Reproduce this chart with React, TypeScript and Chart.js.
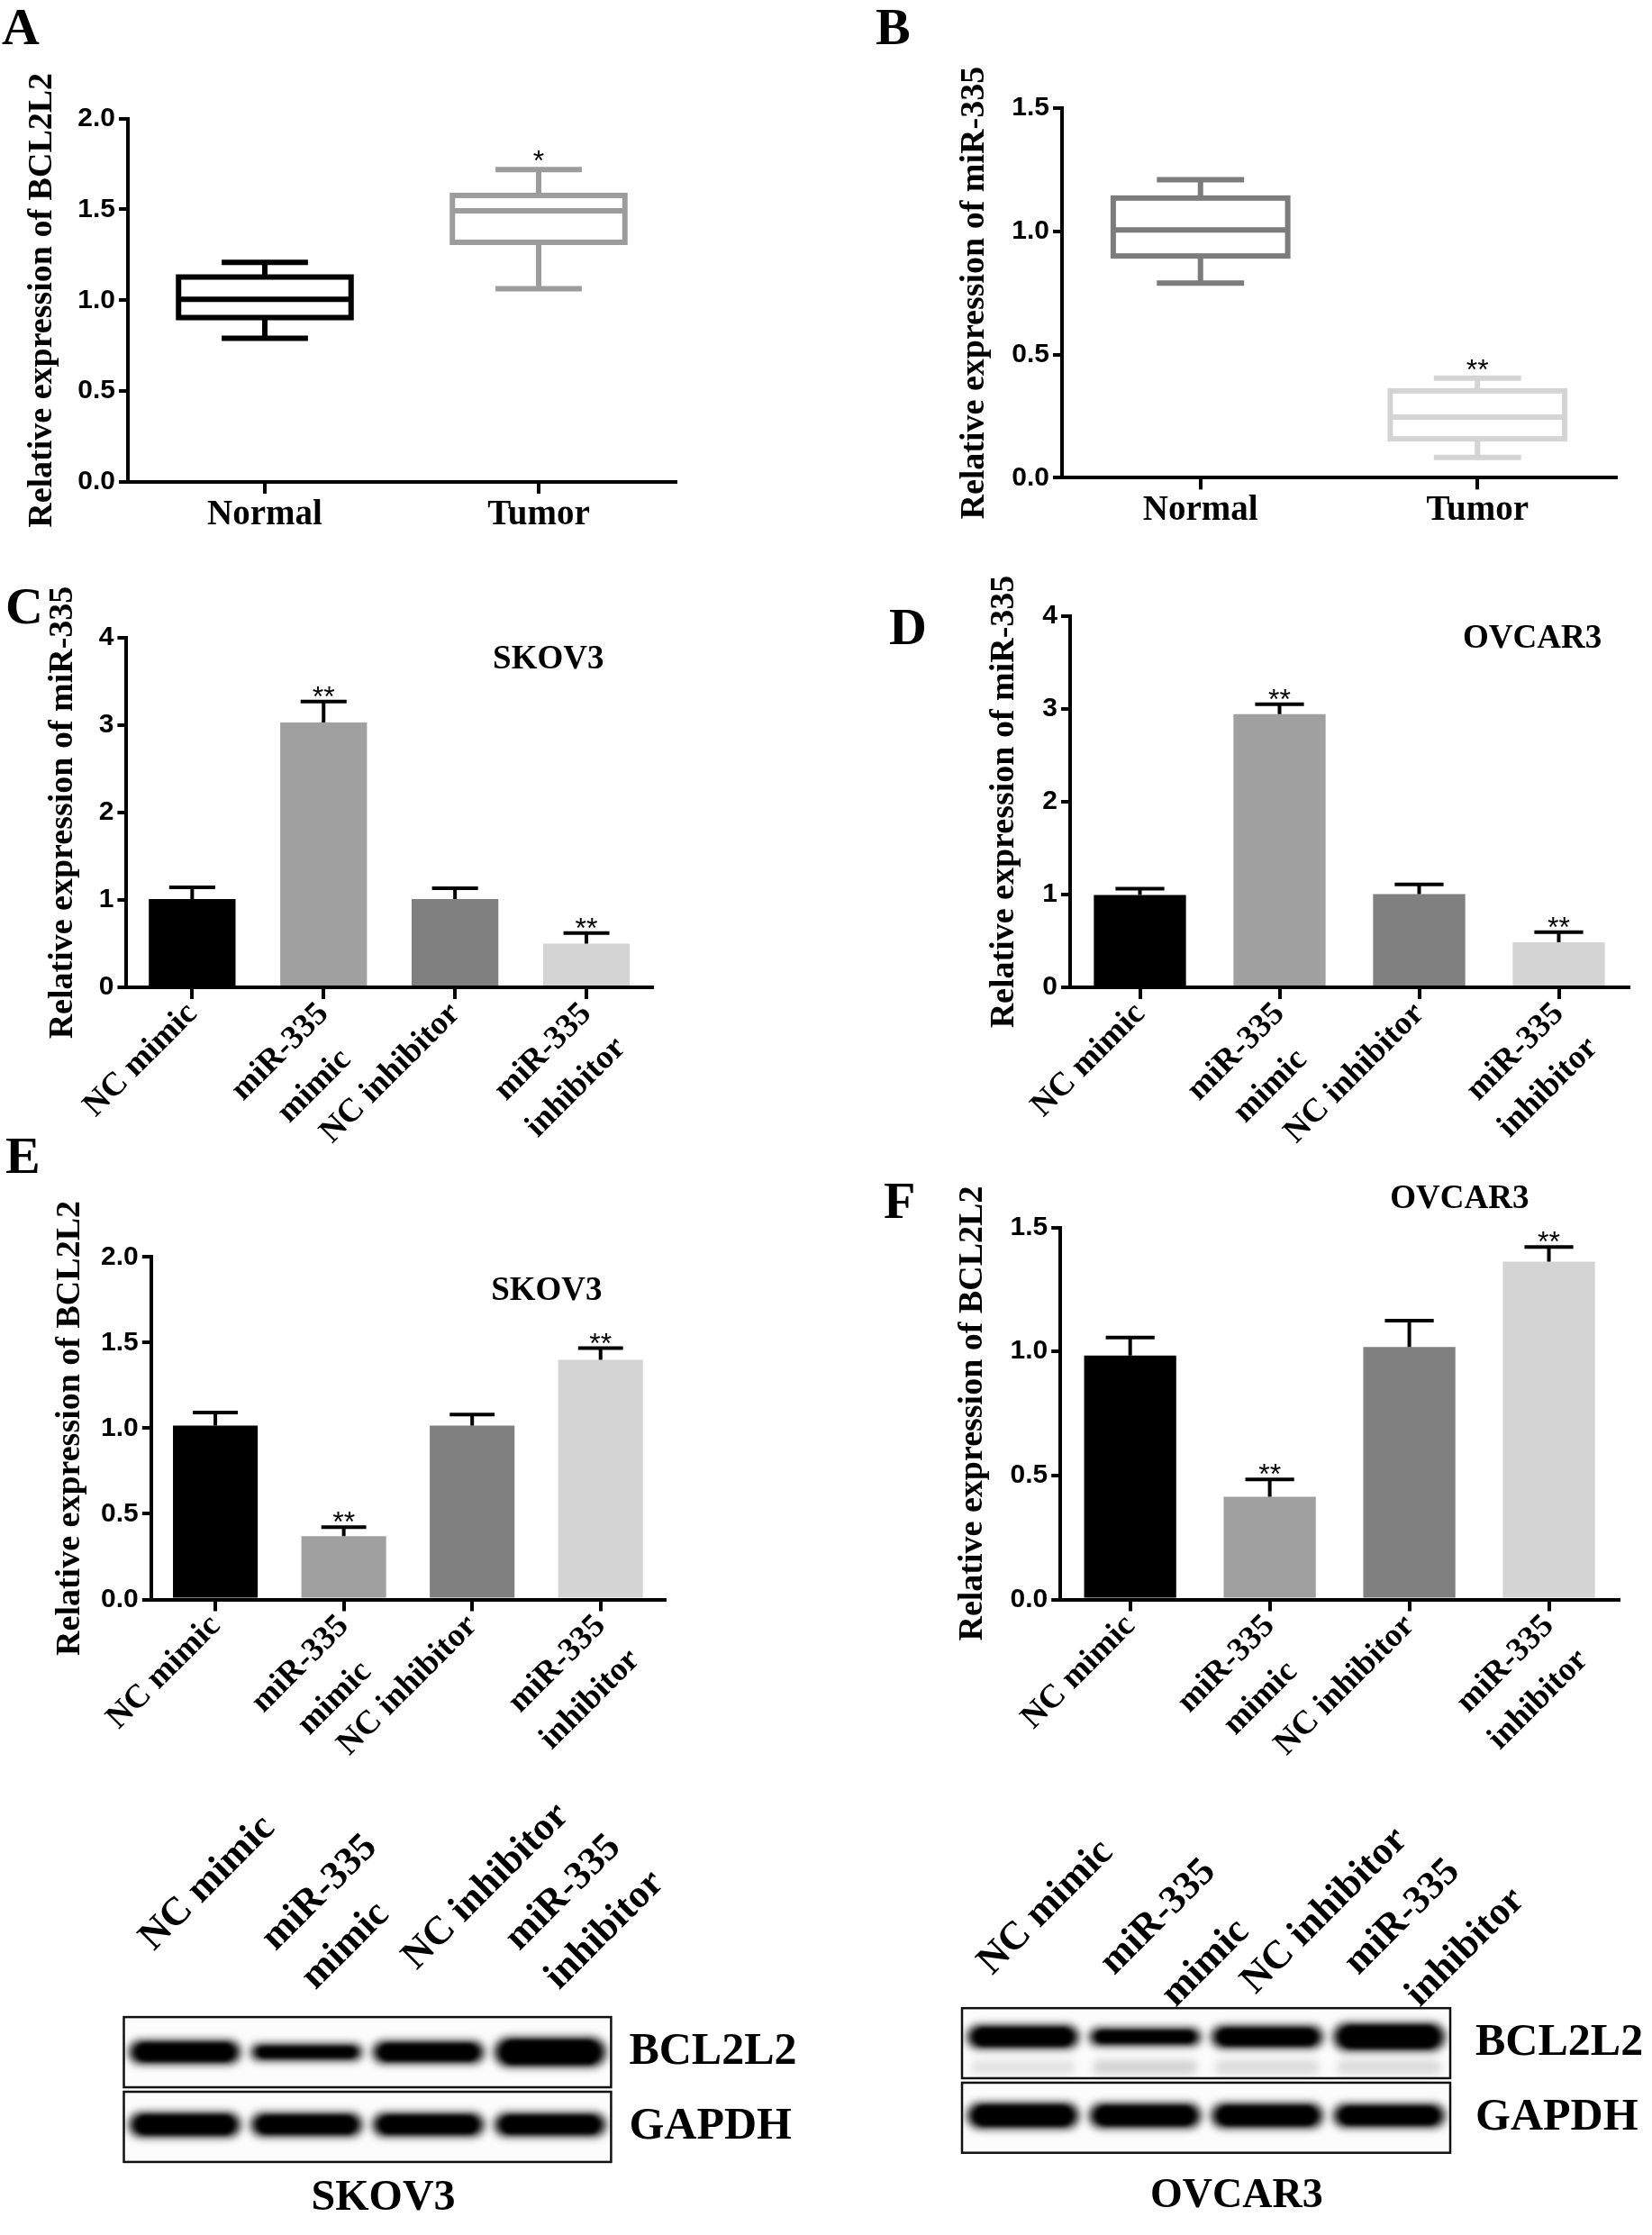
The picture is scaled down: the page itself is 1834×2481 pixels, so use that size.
import React, { useEffect, useRef } from 'react';
import { Chart, registerables } from 'chart.js';

Chart.register(...registerables);

const SERIF = '"Liberation Serif", "Times New Roman", Times, serif';
const SANS = '"Liberation Sans", Arial, Helvetica, sans-serif';
Chart.defaults.font.family = SANS;
Chart.defaults.color = '#000';

/* ---------------- data ---------------- */
const tissueGroups = ['Normal', 'Tumor'];

// A: BCL2L2 in tissue (box plot)
const bcl2l2TissueMin = [0.791, 1.064];
const bcl2l2TissueQ1 = [0.905, 1.319];
const bcl2l2TissueMedian = [1.006, 1.493];
const bcl2l2TissueQ3 = [1.128, 1.577];
const bcl2l2TissueMax = [1.209, 1.719];
const bcl2l2TissueSig = ['', '*'];
const bcl2l2TissueTicks = [0, 0.5, 1.0, 1.5, 2.0];

// B: miR-335 in tissue (box plot)
const mir335TissueMin = [0.79, 0.083];
const mir335TissueQ1 = [0.9, 0.158];
const mir335TissueMedian = [1.006, 0.246];
const mir335TissueQ3 = [1.135, 0.353];
const mir335TissueMax = [1.209, 0.404];
const mir335TissueSig = ['', '**'];
const mir335TissueTicks = [0, 0.5, 1.0, 1.5];

// C-F: transfection groups
const treatmentGroups = ['NC mimic', 'miR-335 mimic', 'NC inhibitor', 'miR-335 inhibitor'];
const treatmentLabelLines = [['NC mimic'], ['miR-335', 'mimic  '], ['NC inhibitor'], ['miR-335', 'inhibitor']];

// C: miR-335, SKOV3
const mirSkov3Mean = [1.01, 3.03, 1.01, 0.5];
const mirSkov3Sem = [0.135, 0.24, 0.125, 0.12];
const mirSkov3Sig = ['', '**', '', '**'];
const mirSkov3Ticks = [0, 1, 2, 3, 4];

// D: miR-335, OVCAR3
const mirOvcar3Mean = [0.994, 2.944, 1.006, 0.486];
const mirOvcar3Sem = [0.069, 0.106, 0.103, 0.108];
const mirOvcar3Sig = ['', '**', '', '**'];
const mirOvcar3Ticks = [0, 1, 2, 3, 4];

// E: BCL2L2, SKOV3
const bclSkov3Mean = [1.015, 0.369, 1.015, 1.4];
const bclSkov3Sem = [0.077, 0.053, 0.065, 0.068];
const bclSkov3Sig = ['', '**', '', '**'];
const bclSkov3Ticks = [0, 0.5, 1.0, 1.5, 2.0];

// F: BCL2L2, OVCAR3
const bclOvcar3Mean = [0.984, 0.414, 1.018, 1.362];
const bclOvcar3Sem = [0.072, 0.07, 0.106, 0.059];
const bclOvcar3Sig = ['', '**', '', '**'];
const bclOvcar3Ticks = [0, 0.5, 1.0, 1.5];

// Western blots (relative band intensity per lane)
const blotLabelFirstLine = ['NC mimic', 'miR-335', 'NC inhibitor', 'miR-335'];
const blotLabelSecondLine = ['', 'mimic', '', 'inhibitor'];
const blotProteins = ['BCL2L2', 'GAPDH'];
const skov3Bcl2l2Band = [1.0, 0.7, 0.95, 1.25];
const skov3GapdhBand = [1.05, 1.0, 1.0, 1.0];
const ovcar3Bcl2l2Band = [1.0, 0.75, 0.95, 1.18];
const ovcar3Bcl2l2Minor = [0.1, 0.16, 0.13, 0.13];
const ovcar3GapdhBand = [1.1, 1.05, 1.05, 1.0];

/* ---------------- styles ---------------- */
const BAR_COLORS = ['#000000', '#a0a0a0', '#808080', '#d4d4d4'];
const A_BOX_COLORS = ['#000000', '#9c9c9c'];
const B_BOX_COLORS = ['#7c7c7c', '#d4d4d4'];
const LANE_FONT = 44;
// lane labels that sit one step further from the membrane (layout choice)
const LANE_RAISED = [true, true, false, true];

type Frame = { x: number; y: number; w: number; h: number };
type Area = { l: number; t: number; r: number; b: number };

function valueAxis(ticks: number[], decimals: number, title: string, yW: number, titleCenter: number) {
  return {
    type: 'linear',
    position: 'left',
    min: ticks[0],
    max: ticks[ticks.length - 1],
    afterBuildTicks: (s: any) => {
      s.ticks = ticks.map((v) => ({ value: v }));
    },
    afterFit: (s: any) => {
      s.width = yW;
    },
    ticks: {
      autoSkip: false,
      callback: (v: any) => Number(v).toFixed(decimals),
      font: { family: SANS, size: 30, weight: 'bold' },
      color: '#000',
      padding: 4,
    },
    grid: { display: true, drawOnChartArea: false, drawTicks: true, tickLength: 10, lineWidth: 4, color: '#000' },
    border: { display: true, width: 4, color: '#000' },
    title: {
      display: true,
      text: title,
      color: '#000',
      font: { family: SERIF, size: 38, weight: 'bold', lineHeight: 1.2 },
      padding: { top: titleCenter - 22.8, bottom: 0 },
    },
    z: 1,
  };
}

function groupAxis(xH: number, size: number, lineHeight: number, padding: number, rotation: number) {
  return {
    type: 'category',
    position: 'bottom',
    offset: true,
    afterFit: (s: any) => {
      s.height = xH;
    },
    ticks: {
      autoSkip: false,
      minRotation: rotation,
      maxRotation: rotation,
      padding,
      color: '#000',
      font: { family: SERIF, size, weight: 'bold', lineHeight },
    },
    grid: { display: true, drawOnChartArea: false, drawTicks: true, tickLength: 13, lineWidth: 4, color: '#000', offset: false },
    border: { display: true, width: 4, color: '#000' },
    z: 1,
  };
}

function padFor(f: Frame, a: Area, xH: number) {
  return { left: 0, top: a.t - f.y, right: f.x + f.w - a.r, bottom: f.y + f.h - a.b - xH };
}

function boxPlugin(mn: number[], q1: number[], md: number[], q3: number[], mx: number[], colors: string[], sig: string[]) {
  return {
    id: 'boxWhisker',
    afterDatasetsDraw(chart: any) {
      const { ctx } = chart;
      const y = chart.scales.y;
      const p = (v: number) => y.getPixelForValue(v);
      chart.getDatasetMeta(0).data.forEach((el: any, i: number) => {
        const x = el.x;
        const w = el.width;
        ctx.save();
        ctx.strokeStyle = colors[i];
        ctx.lineWidth = 6;
        ctx.lineCap = 'butt';
        ctx.strokeRect(x - w / 2, p(q3[i]), w, p(q1[i]) - p(q3[i]));
        ctx.beginPath();
        ctx.moveTo(x - w / 2, p(md[i]));
        ctx.lineTo(x + w / 2, p(md[i]));
        ctx.moveTo(x, p(q3[i]));
        ctx.lineTo(x, p(mx[i]));
        ctx.moveTo(x, p(q1[i]));
        ctx.lineTo(x, p(mn[i]));
        ctx.moveTo(x - w / 4, p(mx[i]));
        ctx.lineTo(x + w / 4, p(mx[i]));
        ctx.moveTo(x - w / 4, p(mn[i]));
        ctx.lineTo(x + w / 4, p(mn[i]));
        ctx.stroke();
        if (sig[i]) {
          ctx.fillStyle = '#000';
          ctx.font = '32px ' + SANS;
          ctx.textAlign = 'center';
          ctx.textBaseline = 'alphabetic';
          ctx.fillText(sig[i], x, p(mx[i]) + 1);
        }
        ctx.restore();
      });
    },
  };
}

function errorBarPlugin(mean: number[], sem: number[], sig: string[], cellLine: string, cellAt: [number, number]) {
  return {
    id: 'errorBars',
    afterDatasetsDraw(chart: any) {
      const { ctx } = chart;
      const y = chart.scales.y;
      const xs = chart.scales.x;
      ctx.save();
      chart.getDatasetMeta(0).data.forEach((el: any, i: number) => {
        const top = y.getPixelForValue(mean[i] + sem[i]);
        const cw = el.width * 0.53;
        ctx.strokeStyle = '#000';
        ctx.lineWidth = 4;
        ctx.beginPath();
        ctx.moveTo(el.x, el.y);
        ctx.lineTo(el.x, top);
        ctx.moveTo(el.x - cw / 2, top);
        ctx.lineTo(el.x + cw / 2, top);
        ctx.stroke();
        if (sig[i]) {
          ctx.fillStyle = '#000';
          ctx.font = '32px ' + SANS;
          ctx.textAlign = 'center';
          ctx.textBaseline = 'alphabetic';
          ctx.fillText(sig[i], el.x, top + 5);
        }
      });
      ctx.fillStyle = '#000';
      ctx.font = 'bold 37px ' + SERIF;
      ctx.textAlign = 'center';
      ctx.textBaseline = 'alphabetic';
      ctx.fillText(cellLine, xs.getPixelForValue(cellAt[0]), y.getPixelForValue(cellAt[1]));
      ctx.restore();
    },
  };
}

function roundRectPath(ctx: CanvasRenderingContext2D, x: number, y: number, w: number, h: number, r: number) {
  const rr = Math.max(0, Math.min(r, h / 2, w / 2));
  ctx.beginPath();
  ctx.moveTo(x + rr, y);
  ctx.lineTo(x + w - rr, y);
  ctx.arcTo(x + w, y, x + w, y + rr, rr);
  ctx.lineTo(x + w, y + h - rr);
  ctx.arcTo(x + w, y + h, x + w - rr, y + h, rr);
  ctx.lineTo(x + rr, y + h);
  ctx.arcTo(x, y + h, x, y + h - rr, rr);
  ctx.lineTo(x, y + rr);
  ctx.arcTo(x, y, x + rr, y, rr);
  ctx.closePath();
}

function blotPlugin(
  bands: number[][],
  bandShift: number[],
  minor: number[] | null,
  secondLineOffset: [number, number],
  cellLine: string,
  cellAt: number,
  cellDrop: number,
  cellSize: number
) {
  return {
    id: 'blot',
    beforeDatasetsDraw(chart: any) {
      const { ctx, chartArea: ca } = chart;
      const yS = chart.scales.y;
      const rowH = (ca.bottom - ca.top) / blotProteins.length;
      const laneW = (ca.right - ca.left) / treatmentGroups.length;
      blotProteins.forEach((_p, r) => {
        const cy = yS.getPixelForValue(r);
        const mh = rowH * 0.94;
        const top = cy - mh / 2;
        ctx.save();
        ctx.fillStyle = '#fcfcfc';
        ctx.fillRect(ca.left, top, ca.right - ca.left, mh);
        ctx.beginPath();
        ctx.rect(ca.left, top, ca.right - ca.left, mh);
        ctx.clip();
        chart.getDatasetMeta(r).data.forEach((el: any, i: number) => {
          const w = laneW * 0.92;
          if (r === 0 && minor) {
            const mhh = 16;
            const myy = el.y + 0.34 * mh;
            ctx.filter = 'blur(5px)';
            ctx.fillStyle = `rgba(0,0,0,${minor[i]})`;
            roundRectPath(ctx, el.x - w / 2 + 4, myy - mhh / 2, w - 8, mhh, mhh / 2);
            ctx.fill();
          }
          const h = 26 * bands[r][i];
          const by = el.y + bandShift[r] * mh;
          ctx.filter = 'blur(5px)';
          ctx.fillStyle = 'rgba(8,8,8,0.95)';
          roundRectPath(ctx, el.x - w / 2, by - h / 2, w, h, h / 2);
          ctx.fill();
          ctx.filter = 'blur(2px)';
          ctx.fillStyle = '#000';
          roundRectPath(ctx, el.x - w / 2 + 8, by - h / 2 + 3, w - 16, h - 6, (h - 6) / 2);
          ctx.fill();
        });
        ctx.restore();
        ctx.save();
        ctx.strokeStyle = '#111';
        ctx.lineWidth = 2.5;
        ctx.strokeRect(ca.left, top, ca.right - ca.left, mh);
        ctx.restore();
      });
    },
    afterDraw(chart: any) {
      const { ctx, chartArea: ca } = chart;
      const xS = chart.scales.x;
      ctx.save();
      ctx.fillStyle = '#000';
      // second line of the lane labels
      ctx.font = `bold ${LANE_FONT}px ${SERIF}`;
      ctx.textAlign = 'left';
      ctx.textBaseline = 'alphabetic';
      blotLabelSecondLine.forEach((t, i) => {
        if (!t) return;
        ctx.save();
        ctx.translate(xS.getPixelForValue(i) + secondLineOffset[0], ca.top + secondLineOffset[1]);
        ctx.rotate(-Math.PI / 4);
        ctx.fillText(t, 0, 0);
        ctx.restore();
      });
      // cell line caption
      ctx.font = `bold ${cellSize}px ${SERIF}`;
      ctx.textAlign = 'center';
      ctx.fillText(cellLine, xS.getPixelForValue(cellAt), ca.bottom + cellDrop);
      ctx.restore();
    },
  };
}

const baseOptions = {
  responsive: false,
  animation: false,
  devicePixelRatio: 1,
  events: [],
};
const noPlugins = { legend: { display: false }, tooltip: { enabled: false }, title: { display: false } };

function boxConfig(
  f: Frame, a: Area, xH: number, titleX: number, title: string, ticks: number[],
  mn: number[], q1: number[], md: number[], q3: number[], mx: number[], colors: string[], sig: string[]
) {
  return {
    type: 'bar',
    data: {
      labels: tissueGroups,
      datasets: [
        {
          data: q1.map((v, i) => [v, q3[i]]),
          backgroundColor: 'rgba(0,0,0,0)',
          borderWidth: 0,
          barPercentage: 0.63,
          categoryPercentage: 1,
        },
      ],
    },
    options: {
      ...baseOptions,
      layout: { padding: padFor(f, a, xH) },
      plugins: noPlugins,
      scales: {
        x: groupAxis(xH, 39, 1.2, 0, 0),
        y: valueAxis(ticks, 1, title, a.l - f.x, titleX - f.x),
      },
    },
    plugins: [boxPlugin(mn, q1, md, q3, mx, colors, sig)],
  };
}

function barConfig(
  f: Frame, a: Area, xH: number, titleX: number, title: string, ticks: number[], decimals: number,
  mean: number[], sem: number[], sig: string[], cellLine: string, cellAt: [number, number]
) {
  return {
    type: 'bar',
    data: {
      labels: treatmentLabelLines,
      datasets: [
        {
          data: mean,
          backgroundColor: BAR_COLORS,
          borderWidth: 0,
          barPercentage: 0.66,
          categoryPercentage: 1,
        },
      ],
    },
    options: {
      ...baseOptions,
      layout: { padding: padFor(f, a, xH) },
      plugins: noPlugins,
      scales: {
        x: groupAxis(xH, 37, 1.45, -8, 45),
        y: valueAxis(ticks, decimals, title, a.l - f.x, titleX - f.x),
      },
    },
    plugins: [errorBarPlugin(mean, sem, sig, cellLine, cellAt)],
  };
}

function blotConfig(
  f: Frame, a: Area, pad1: number, secondLineOffset: [number, number], protPad: number,
  bands: number[][], bandShift: number[], minor: number[] | null,
  cellLine: string, cellAt: number, cellDrop: number, cellSize: number
) {
  const xH = a.t - f.y;
  return {
    type: 'line',
    data: {
      labels: blotLabelFirstLine,
      datasets: blotProteins.map((p) => ({
        label: p,
        data: treatmentGroups.map((_g, i) => ({ x: i, y: p })),
        pointRadius: 0,
        showLine: false,
      })),
    },
    options: {
      ...baseOptions,
      layout: { padding: { left: a.l - f.x, top: 0, right: 0, bottom: f.y + f.h - a.b } },
      plugins: noPlugins,
      scales: {
        x: {
          type: 'category',
          position: 'top',
          offset: true,
          afterFit: (s: any) => {
            s.height = xH;
          },
          grid: { display: false },
          border: { display: false },
          ticks: {
            autoSkip: false,
            minRotation: 45,
            maxRotation: 45,
            padding: pad1,
            color: '#000',
            font: { family: SERIF, size: LANE_FONT, weight: 'bold', lineHeight: 0.68 },
            callback: (_v: any, i: number) => (LANE_RAISED[i] ? [blotLabelFirstLine[i], ''] : blotLabelFirstLine[i]),
          },
          z: 1,
        },
        y: {
          type: 'category',
          labels: blotProteins,
          position: 'right',
          offset: true,
          afterFit: (s: any) => {
            s.width = f.x + f.w - a.r;
          },
          grid: { display: false },
          border: { display: false },
          ticks: { padding: protPad, color: '#000', font: { family: SERIF, size: 50, weight: 'bold' } },
        },
      },
    },
    plugins: [blotPlugin(bands, bandShift, minor, secondLineOffset, cellLine, cellAt, cellDrop, cellSize)],
  };
}

function ChartCanvas({ frame, build }: { frame: Frame; build: () => any }) {
  const ref = useRef<HTMLCanvasElement | null>(null);
  useEffect(() => {
    if (!ref.current) return;
    const chart = new Chart(ref.current, build());
    return () => chart.destroy();
  }, []);
  return (
    <div style={{ position: 'absolute', left: frame.x, top: frame.y, width: frame.w, height: frame.h }}>
      <canvas ref={ref} width={frame.w} height={frame.h} style={{ width: frame.w, height: frame.h, display: 'block' }} />
    </div>
  );
}

/* ---------------- layout ---------------- */
const FA: Frame = { x: 0, y: 50, w: 917, h: 580 };
const AA: Area = { l: 142, t: 131.6, r: 750, b: 535.1 };
const FB: Frame = { x: 917, y: 50, w: 917, h: 580 };
const AB: Area = { l: 1179, t: 120, r: 1794, b: 530.4 };
const FC: Frame = { x: 0, y: 600, w: 917, h: 690 };
const AC: Area = { l: 140.4, t: 708, r: 724, b: 1096 };
const FD: Frame = { x: 917, y: 600, w: 917, h: 690 };
const AD: Area = { l: 1188, t: 684, r: 1808, b: 1096 };
const FE: Frame = { x: 0, y: 1260, w: 917, h: 730 };
const AE: Area = { l: 167.8, t: 1395.4, r: 738, b: 1775.5 };
const FF: Frame = { x: 917, y: 1260, w: 917, h: 730 };
const AF: Area = { l: 1177.2, t: 1362.6, r: 1797, b: 1775.5 };
const FW1: Frame = { x: 0, y: 1990, w: 917, h: 491 };
const AW1: Area = { l: 137.5, t: 2236.6, r: 678.4, b: 2402.4 };
const FW2: Frame = { x: 917, y: 1990, w: 917, h: 491 };
const AW2: Area = { l: 1068, t: 2226.7, r: 1610, b: 2392.2 };

const panelLetters = [
  { t: 'A', x: 2, base: 50 },
  { t: 'B', x: 972, base: 50 },
  { t: 'C', x: 6, base: 693 },
  { t: 'D', x: 987, base: 716 },
  { t: 'E', x: 6, base: 1303 },
  { t: 'F', x: 981, base: 1353 },
];

export default function App() {
  return (
    <div style={{ position: 'absolute', left: 0, top: 0, width: 1834, height: 2481, background: '#fff', overflow: 'hidden' }}>
      <ChartCanvas
        frame={FA}
        build={() =>
          boxConfig(FA, AA, 80, 47, 'Relative expression of BCL2L2', bcl2l2TissueTicks,
            bcl2l2TissueMin, bcl2l2TissueQ1, bcl2l2TissueMedian, bcl2l2TissueQ3, bcl2l2TissueMax, A_BOX_COLORS, bcl2l2TissueSig)
        }
      />
      <ChartCanvas
        frame={FB}
        build={() =>
          boxConfig(FB, AB, 80, 1082.5, 'Relative expression of miR-335', mir335TissueTicks,
            mir335TissueMin, mir335TissueQ1, mir335TissueMedian, mir335TissueQ3, mir335TissueMax, B_BOX_COLORS, mir335TissueSig)
        }
      />
      <ChartCanvas
        frame={FC}
        build={() =>
          barConfig(FC, AC, 180, 70.5, 'Relative expression of miR-335', mirSkov3Ticks, 0,
            mirSkov3Mean, mirSkov3Sem, mirSkov3Sig, 'SKOV3', [2.71, 3.65])
        }
      />
      <ChartCanvas
        frame={FD}
        build={() =>
          barConfig(FD, AD, 180, 1115, 'Relative expression of miR-335', mirOvcar3Ticks, 0,
            mirOvcar3Mean, mirOvcar3Sem, mirOvcar3Sig, 'OVCAR3', [2.81, 3.66])
        }
      />
      <ChartCanvas
        frame={FE}
        build={() =>
          barConfig(FE, AE, 190, 78.5, 'Relative expression of BCL2L2', bclSkov3Ticks, 1,
            bclSkov3Mean, bclSkov3Sem, bclSkov3Sig, 'SKOV3', [2.58, 1.75])
        }
      />
      <ChartCanvas
        frame={FF}
        build={() =>
          barConfig(FF, AF, 190, 1080, 'Relative expression of BCL2L2', bclOvcar3Ticks, 1,
            bclOvcar3Mean, bclOvcar3Sem, bclOvcar3Sig, 'OVCAR3', [2.36, 1.578])
        }
      />
      <ChartCanvas
        frame={FW1}
        build={() =>
          blotConfig(FW1, AW1, 38.6, [10, -27], 12, [skov3Bcl2l2Band, skov3GapdhBand], [0, -0.03], null,
            'SKOV3', 1.63, 50.6, 48)
        }
      />
      <ChartCanvas
        frame={FW2}
        build={() =>
          blotConfig(FW2, AW2, 1.7, [34, 2], 20, [ovcar3Bcl2l2Band, ovcar3GapdhBand], [-0.09, -0.03], ovcar3Bcl2l2Minor,
            'OVCAR3', 1.75, 57.5, 46)
        }
      />
      {panelLetters.map((l) => (
        <div
          key={l.t}
          style={{
            position: 'absolute',
            left: l.x,
            top: l.base - 50.3 * (58 / 60),
            fontFamily: SERIF,
            fontWeight: 'bold',
            fontSize: 58,
            lineHeight: '58px',
            color: '#000',
          }}
        >
          {l.t}
        </div>
      ))}
    </div>
  );
}
